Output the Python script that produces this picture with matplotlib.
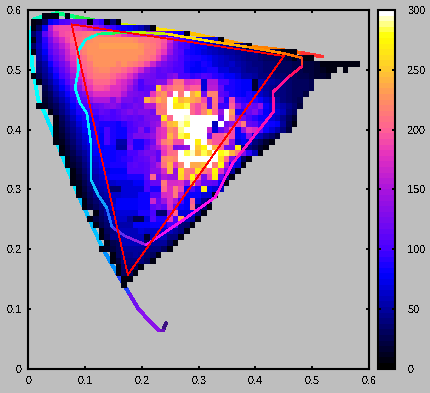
import numpy as np
import matplotlib
matplotlib.use("Agg")
import matplotlib.pyplot as plt
from matplotlib.colors import LinearSegmentedColormap
from matplotlib.collections import LineCollection

plt.rcParams['font.family'] = ['Liberation Sans', 'DejaVu Sans']
plt.rcParams['text.antialiased'] = False
n = np.nan

# histogram rows: row_YY holds counts at y = 0.YY, beginning at x = start[YY] * 0.01
start = {59:3,58:1,57:1,56:1,55:1,54:1,53:1,52:2,51:2,50:2,49:1,48:2,47:3,46:3,45:3,44:2,43:3,42:4,41:4,40:4,
         39:5,38:5,37:4,36:5,35:5,34:6,33:6,32:7,31:7,30:8,29:8,28:9,27:9,26:10,25:10,24:11,23:11,22:12,21:13,20:13,
         19:14,18:14,17:15,16:15,15:16,14:17}
# first occupied column of the lower-left rows, read from the stepped black edge
left_edge = {43:4,42:5,41:5,40:5,39:5,38:5,37:6,36:6,35:7,34:7,33:8,32:8,31:8,30:9,29:9,28:10,27:10,26:12,25:11,
             24:12,23:13,22:13,21:14,20:13,19:15,18:15,17:16,16:16,15:17,14:17}
row_59 = [8,8,8,n,8]
row_58 = [8,10,30,75,85,100,105,125,125,130,8,100,90,8,40,8]
row_57 = [8,30,75,150,185,190,190,190,185,175,165,145,130,105,95,85,80,75,70,60,40,8]
row_56 = [30,55,110,145,170,190,195,200,205,210,215,215,210,205,200,195,180,170,165,165,160,150,130,115,95,85,80,8]
row_55 = [8,55,90,125,150,170,190,205,210,215,222,225,228,228,228,228,225,225,222,215,215,210,205,195,165,125,105,95,90,80,75,70,70,8]
row_54 = [30,60,85,115,135,155,175,195,215,222,225,228,230,230,230,230,230,230,230,228,220,215,205,190,150,120,100,95,80,75,75,60,60,55,50,50,45,35,8]
row_53 = [8,55,75,105,125,145,165,190,210,220,225,225,225,225,225,225,225,225,225,225,215,215,195,180,145,115,105,85,80,75,70,65,60,55,50,50,45,45,40,45,30,25,25,20,8,8,8]
row_52 = [50,70,95,115,135,160,180,200,210,222,225,225,225,225,225,225,225,225,220,215,205,185,150,125,115,100,90,85,85,80,75,70,65,60,55,50,45,40,40,35,30,30,30,25,20,8,25,8,8]
row_51 = [40,55,80,100,120,140,170,190,205,215,225,228,225,225,220,225,220,215,205,190,165,140,125,115,105,100,85,80,75,85,80,70,65,60,65,55,50,45,40,40,35,35,30,30,30,25,25,20,20,15,8,8,8,8,8,8,8]
row_50 = [35,50,70,90,110,130,155,180,200,210,220,222,222,215,215,205,195,185,165,140,125,110,115,110,100,100,85,75,75,80,85,85,70,70,60,60,50,45,45,40,35,35,30,30,30,25,25,20,20,15,10,8,8,n,8]
row_49 = [8,25,45,60,80,100,115,145,170,190,205,215,215,215,205,195,190,175,155,130,125,120,110,110,125,135,100,100,90,95,105,100,90,85,75,75,70,55,55,50,40,40,40,35,35,30,30,25,25,20,15,15,10]
row_48 = [8,35,50,70,85,105,125,150,175,190,205,205,205,195,180,170,155,130,100,120,120,130,130,170,210,210,170,175,180,70,150,150,100,100,85,80,75,75,15,60,55,50,45,40,35,30,30,30,25]
row_47 = [25,40,60,75,90,110,135,160,180,195,195,190,175,175,165,145,120,100,110,110,250,190,205,220,220,190,200,200,70,155,155,115,85,85,80,75,75,15,60,50,45,40,40,35,30,30,30,25]
row_46 = [20,30,50,65,80,95,115,125,160,175,175,175,170,170,150,130,125,120,115,180,215,225,190,300,215,300,235,255,120,220,220,110,100,85,80,75,85,75,65,55,45,40,40,35,30,30,20]
row_45 = [15,25,40,55,70,85,110,110,140,150,150,150,130,150,125,125,115,120,240,215,240,225,300,280,240,250,235,225,190,110,215,135,85,190,95,90,85,90,80,70,60,50,40,35,30,25]
row_44 = [8,10,20,30,45,60,75,90,100,105,115,120,130,135,125,110,115,125,120,150,150,210,220,300,265,265,285,205,190,210,110,210,95,95,200,140,100,120,115,140,80,70,60,55,45,35,20]
row_43 = [8,15,25,40,55,70,85,90,95,100,115,110,100,110,120,130,120,130,130,120,215,215,300,300,300,300,205,190,220,250,200,140,300,230,85,85,115,130,100,75,70,70,60,40,30]
row_42 = [10,20,30,45,60,75,85,85,90,100,105,100,105,115,110,115,110,125,130,130,265,205,300,300,295,300,300,300,300,300,120,300,215,130,120,100,90,80,80,70,60,45,30,15]
row_41 = [8,15,25,40,50,70,80,80,90,85,85,85,80,90,100,110,115,120,135,145,205,240,250,295,285,300,300,300,300,60,300,120,140,180,215,115,110,90,85,80,75,50,25,8]
row_40 = [8,10,20,35,45,60,75,80,85,80,100,85,80,80,100,105,130,100,130,170,180,225,215,290,300,300,300,300,165,70,115,140,190,75,140,180,170,110,80,70,55,40,20]
row_39 = [8,15,30,40,55,70,75,85,75,100,85,80,80,105,125,125,130,140,170,180,240,215,285,265,300,300,300,120,195,195,215,190,75,80,140,70,60,45,35,20]
row_38 = [5,10,25,35,50,65,75,85,75,100,85,55,55,110,85,85,100,120,175,215,225,190,190,300,300,270,300,220,195,195,215,140,70,75,70,40,30,15,8]
row_37 = [8,8,8,20,30,45,60,70,80,75,80,80,50,50,120,85,85,110,135,150,185,205,125,130,140,300,250,275,300,240,200,120,120,270,40,40,30,15,8]
row_36 = [8,8,15,25,40,50,65,75,80,80,80,85,85,100,100,115,125,125,110,180,205,210,300,285,295,240,285,250,300,280,285,240,215,130,90,60,8]
row_35 = [8,8,12,20,30,45,60,70,75,80,80,85,90,95,105,110,115,135,110,220,225,220,300,300,300,300,300,300,300,260,205,130,75,30,8]
row_34 = [8,10,15,25,40,55,65,75,80,85,85,85,105,110,105,110,130,150,210,240,180,220,300,235,235,245,300,215,280,150,80,70,8]
row_33 = [8,8,12,20,35,50,60,70,70,75,75,75,105,105,105,110,135,135,170,240,140,260,215,210,265,215,200,275,175,120,50,8]
row_32 = [8,8,15,30,45,55,65,75,80,80,80,85,85,85,110,205,120,150,145,145,255,210,280,195,125,185,270,110,40,8]
row_31 = [8,8,10,25,40,55,60,65,65,70,70,70,75,75,100,115,115,215,170,170,175,140,240,150,115,115,110,80,8]
row_30 = [8,10,20,35,50,55,60,35,35,70,70,70,70,100,85,85,205,175,215,185,80,105,85,270,75,70,60]
row_29 = [8,8,15,30,45,50,55,65,65,70,70,70,80,80,105,105,170,175,215,150,80,80,80,70,70,8]
row_28 = [8,10,25,35,45,50,60,75,75,75,75,80,80,165,115,145,175,150,100,75,200,70,45,30]
row_27 = [8,8,20,30,40,50,70,75,75,75,75,80,80,110,120,110,170,115,80,75,210,40,35,8]
row_26 = [8,15,25,35,50,50,70,70,70,70,85,85,100,35,35,135,200,70,70,75,40,8]
row_25 = [8,10,20,30,40,65,65,65,50,25,25,70,105,85,85,180,100,235,60,50,8]
row_24 = [8,15,25,35,55,55,55,55,75,75,75,80,80,80,100,100,40,35,8]
row_23 = [8,10,20,30,40,60,60,60,60,70,65,65,65,65,60,50,40,8]
row_22 = [8,15,25,45,45,60,60,60,60,15,60,60,60,40,40,8]
row_21 = [10,20,25,30,60,60,60,60,30,50,50,50,30,8]
row_20 = [8,10,20,30,50,50,50,50,40,40,40,30,8]
row_19 = [8,15,30,45,45,50,45,35,30,8]
row_18 = [8,10,20,40,40,40,40,30,8]
row_17 = [8,15,35,35,30,8]
row_16 = [8,8,30,30,8]
row_15 = [8,30,8]
row_14 = [8]

all_rows = {59:row_59,58:row_58,57:row_57,56:row_56,55:row_55,54:row_54,53:row_53,52:row_52,51:row_51,50:row_50,
            49:row_49,48:row_48,47:row_47,46:row_46,45:row_45,44:row_44,43:row_43,42:row_42,41:row_41,40:row_40,
            39:row_39,38:row_38,37:row_37,36:row_36,35:row_35,34:row_34,33:row_33,32:row_32,31:row_31,30:row_30,
            29:row_29,28:row_28,27:row_27,26:row_26,25:row_25,24:row_24,23:row_23,22:row_22,21:row_21,20:row_20,
            19:row_19,18:row_18,17:row_17,16:row_16,15:row_15,14:row_14}

# spectrum locus (drawn under the histogram)
locus_x = [0.242,0.237,0.229,0.208,0.193,0.176,0.156,0.132,0.088,0.029,0.017,0.006,0.004,0.01,0.05,0.085,0.144,0.209,0.285,0.325,0.399,0.447,0.482,0.517]
locus_y = [0.076,0.064,0.064,0.085,0.101,0.128,0.160,0.199,0.290,0.427,0.450,0.510,0.561,0.585,0.595,0.588,0.578,0.570,0.561,0.553,0.538,0.533,0.528,0.522]
locus_c = ['#3a1080','#6a10c0','#8a10e8','#8a10f0','#7010f0','#2040ff','#0090ff','#00c0ff','#00e8ff','#00ffff','#00ffff','#00ffff','#00ffff','#00ffc0','#00ff80','#20f040','#d0f000','#ffe000','#ffc000','#ffa000','#ff8000','#ff6000','#ff3030','#ff1050']
# inner gamut curve (drawn over the histogram)
gamut_x = [0.207,0.170,0.147,0.138,0.123,0.110,0.110,0.103,0.091,0.082,0.088,0.089,0.100,0.123,0.149,0.184,0.244,0.325,0.387,0.447,0.482,0.482,0.456,0.431,0.432,0.403,0.360,0.329,0.267,0.207]
gamut_y = [0.207,0.222,0.237,0.269,0.290,0.316,0.377,0.427,0.444,0.469,0.500,0.533,0.550,0.560,0.561,0.563,0.560,0.547,0.538,0.528,0.520,0.506,0.486,0.463,0.430,0.396,0.344,0.287,0.245,0.207]
gamut_c = ['#9020e0','#6030f0','#2070ff','#10a0ff','#10c0ff','#00e0ff','#00f0ff','#00ffff','#00ffff','#00ffff','#00ffff','#00ffff','#00ffe0','#00ff80','#30f040','#c0f000','#ffe000','#ffb000','#ff9000','#ff7000','#ff4020','#ff1060','#ff1090','#ff10a0','#ff10b0','#ff10c0','#ff10e0','#ff10f0','#f010f0','#c010f0']
# reference triangle
tri_x = [0.076,0.175,0.450,0.076]
tri_y = [0.576,0.157,0.523,0.576]

cmap_x = [0,78,100,150,180,200,230,255,280,300]
cmap_c = ['#000000','#0000ff','#4a00ff','#aa14dc','#e632be','#ff5f96','#ff965a','#ffd028','#ffff00','#ffffff']

xticks = [0,0.1,0.2,0.3,0.4,0.5,0.6]
xlabels = ['0','0.1','0.2','0.3','0.4','0.5','0.6']
cticks = [0,50,100,150,200,250,300]

grey = '#bebebe'
W, H = 431, 393
fig = plt.figure(figsize=(W/100, H/100), dpi=100, facecolor=grey)
ax = fig.add_axes([28.5/W, (H-368.7)/H, 340.5/W, 358.7/H], facecolor=grey)
cax = fig.add_axes([378.5/W, (H-368.7)/H, 16.5/W, 358.7/H])

cmap = LinearSegmentedColormap.from_list('spec', [(v/300, c) for v, c in zip(cmap_x, cmap_c)], N=64)

Z = np.full((61, 61), np.nan)
for r, vals in all_rows.items():
    s = start[r]
    Z[r, s:s+len(vals)] = vals
for r, c in left_edge.items():
    Z[r, :c] = np.nan
    Z[r, c] = 8
edges = (np.arange(62) - 0.62) * 0.01
yedges = (np.arange(62) - 0.5) * 0.01


def colored(a, xs, ys, cs, lw, z):
    pts = np.column_stack([xs, ys])
    segs = np.stack([pts[:-1], pts[1:]], axis=1)
    a.add_collection(LineCollection(segs, colors=cs[:-1], linewidths=lw, zorder=z, capstyle='round', antialiaseds=False))


colored(ax, locus_x, locus_y, locus_c, 2.0, 1)
m = ax.pcolormesh(edges, yedges, np.ma.masked_invalid(Z), cmap=cmap, vmin=0, vmax=300, zorder=2, antialiased=False, linewidth=0, rasterized=True)
colored(ax, gamut_x, gamut_y, gamut_c, 1.1, 3)
ax.plot(tri_x, tri_y, color='#ff0000', lw=0.5, zorder=4, antialiased=False)

ax.set_xlim(0, 0.6)
ax.set_ylim(0, 0.6)
ax.set_xticks(xticks)
ax.set_xticklabels(xlabels)
ax.set_yticks(xticks)
ax.set_yticklabels(xlabels)
ax.tick_params(direction='in', length=2, width=1.4, top=True, right=True, labelsize=7.8, pad=5, colors='black')
for sp in ax.spines.values():
    sp.set_linewidth(1.5)
    sp.set_zorder(6)

cb = fig.colorbar(m, cax=cax)
cb.set_ticks(cticks)
cb.ax.tick_params(direction='in', length=2.5, width=1.4, left=True, right=True, labelsize=7.8, pad=9)
cb.outline.set_linewidth(1.5)
cb.solids.set_antialiased(False)

fig.savefig('out.png', dpi=100, facecolor=grey)
